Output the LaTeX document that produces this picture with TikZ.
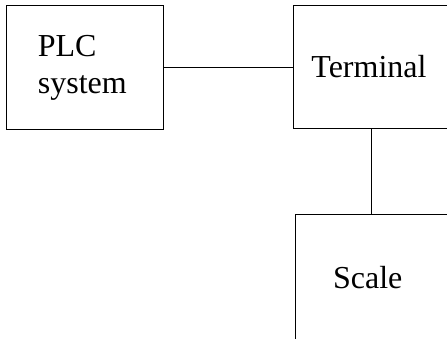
\documentclass[tikz,border=0pt]{standalone}
\usepackage{fontspec}
\setmainfont{Liberation Serif}
\begin{document}
\begin{tikzpicture}[x=1pt,y=1pt,
  box/.style={draw=black, line width=1.1pt, rectangle, inner sep=0pt, anchor=north west},
  lbl/.style={font=\fontsize{32}{36.6}\selectfont, align=left, inner sep=0pt},
  link/.style={draw=black, line width=1.1pt}]
\useasboundingbox (0,0) rectangle (447,339);
\clip (0,0) rectangle (447,339);
\node[box, minimum width=157pt, minimum height=124pt,
  label={[lbl, xshift=-2.7pt, yshift=-0.5pt]center:PLC\\system}] (plc) at (6,334) {};
\node[box, minimum width=156.6pt, minimum height=123pt,
  label={[lbl, xshift=-2.6pt, yshift=0.7pt]center:Terminal}] (term) at (292.7,334) {};
\node[box, minimum width=160pt, minimum height=140pt,
  label={[lbl, xshift=-8.1pt, yshift=7pt]center:Scale}] (scale) at (295.3,125) {};
\draw[link] (plc.east) -- (plc.east -| term.west);
\draw[link] (term.south) -- (term.south |- scale.north);
\end{tikzpicture}
\end{document}
